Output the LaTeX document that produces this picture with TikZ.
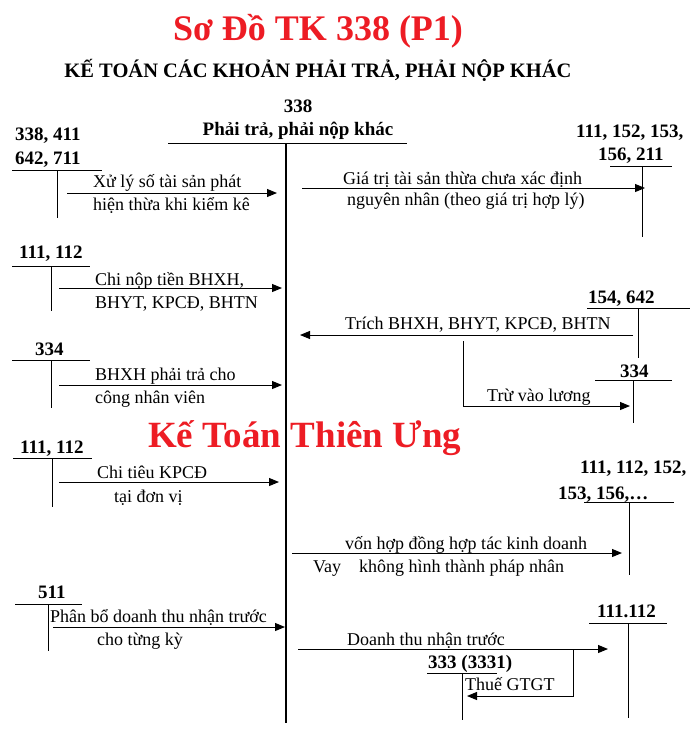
\documentclass[tikz,border=0pt]{standalone}
\usepackage{fontspec}
\setmainfont{Liberation Serif}
\usetikzlibrary{arrows.meta}
\definecolor{doTieuDe}{RGB}{237,28,36}

\begin{document}
\begin{tikzpicture}[x=1pt,y=-1pt,
    so/.style={font=\fontsize{19}{22}\selectfont\bfseries, inner sep=0pt, anchor=base west},
    chu/.style={font=\fontsize{18}{21}\selectfont, inner sep=0pt, anchor=base west},
    tk/.style={line width=1pt},
    mui/.style={line width=1pt, -{Triangle[length=10pt,width=8pt]}}]

\useasboundingbox (0,0) rectangle (700,731);

% Tieu de
\node[font=\fontsize{36}{40}\selectfont\bfseries, text=doTieuDe, inner sep=0pt, anchor=base] (tieude) at (318,40) {Sơ Đồ TK 338 (P1)};
\node[font=\fontsize{20.5}{24}\selectfont\bfseries, inner sep=0pt, anchor=base] (phude) at (318,77) {KẾ TOÁN CÁC KHOẢN PHẢI TRẢ, PHẢI NỘP KHÁC};

% Tai khoan 338 (truc chinh)
\node[so, anchor=base] (tk338) at (298,112) {338};
\node[so, anchor=base] (ten338) at (298,135) {Phải trả, phải nộp khác};
\draw[tk] (168,143) -- (407,143);
\draw[line width=2.8pt] (286,143) -- (286,723);

% 338, 411, 642, 711 -> 338
\node[so] (tk411) at (15,140) {338, 411};
\node[so] (tk711) at (15,164) {642, 711};
\draw[tk] (12,170) -- (102,170);
\draw[tk] (57,170) -- (57,218);
\coordinate (xuly1) at (67,193);
\coordinate (xuly2) at (277,193);
\draw[mui] (xuly1) -- (xuly2);
\node[chu] (xuly) at (93,187) {Xử lý số tài sản phát};
\node[chu] (xulyb) at (93,210) {hiện thừa khi kiểm kê};

% 338 -> 111, 152, 153, 156, 211
\node[so] (tk153) at (576,137) {111, 152, 153,};
\node[so] (tk211) at (598,160) {156, 211};
\draw[tk] (610,166) -- (672,166);
\draw[tk] (642,166) -- (642,237);
\coordinate (giatri1) at (302,188);
\coordinate (giatri2) at (645,188);
\draw[mui] (giatri1) -- (giatri2);
\node[chu] (giatri) at (343,184) {Giá trị tài sản thừa chưa xác định};
\node[chu] (giatrib) at (347,205) {nguyên nhân (theo giá trị hợp lý)};

% 111, 112 -> 338 (chi nop)
\node[so] (tk112a) at (19,258) {111, 112};
\draw[tk] (12,266) -- (90,266);
\draw[tk] (51,266) -- (51,311);
\coordinate (chinop1) at (59,288);
\coordinate (chinop2) at (282,288);
\draw[mui] (chinop1) -- (chinop2);
\node[chu] (chinop) at (95,285) {Chi nộp tiền BHXH,};
\node[chu] (chinopb) at (95,308) {BHYT, KPCĐ, BHTN};

% 334 -> 338
\node[so] (tk334a) at (35,355) {334};
\draw[tk] (12,360) -- (90,360);
\draw[tk] (51,360) -- (51,408);
\coordinate (bhxh1) at (59,385);
\coordinate (bhxh2) at (282,385);
\draw[mui] (bhxh1) -- (bhxh2);
\node[chu] (bhxh) at (95,380) {BHXH phải trả cho};
\node[chu] (bhxhb) at (95,403) {công nhân viên};

% 154, 642 -> 338 ; 334
\node[so] (tk642) at (588,303) {154, 642};
\draw[tk] (587,308) -- (690,308);
\draw[tk] (638,308) -- (638,358);
\coordinate (trich1) at (633,335);
\coordinate (trich2) at (300,335);
\draw[mui] (trich1) -- (trich2);
\node[chu] (trich) at (345,329) {Trích BHXH, BHYT, KPCĐ, BHTN};
\node[so] (tk334b) at (620,377) {334};
\draw[tk] (595,380) -- (672,380);
\draw[tk] (633,380) -- (633,423);
\coordinate (tru1) at (463,341);
\coordinate (tru2) at (630,406);
\draw[mui] (tru1) |- (tru2);
\node[chu] (tru) at (487,401) {Trừ vào lương};

% 111, 112 -> 338 (chi tieu)
\node[so] (tk112b) at (20,453) {111, 112};
\draw[tk] (13,458) -- (92,458);
\draw[tk] (52,458) -- (52,507);
\coordinate (chitieu1) at (59,482);
\coordinate (chitieu2) at (279,482);
\draw[mui] (chitieu1) -- (chitieu2);
\node[chu] (chitieu) at (97,478) {Chi tiêu KPCĐ};
\node[chu] (chitieub) at (114,502) {tại đơn vị};

% 338 -> 111, 112, 152, 153, 156
\node[so] (tk152) at (580,473) {111, 112, 152,};
\node[so] (tk156) at (558,499) {153, 156,…};
\draw[tk] (584,502) -- (674,502);
\draw[tk] (629,502) -- (629,575);
\coordinate (vay1) at (292,553);
\coordinate (vay2) at (622,553);
\draw[mui] (vay1) -- (vay2);
\node[chu] (von) at (345,549) {vốn hợp đồng hợp tác kinh doanh};
\node[chu] (vay) at (313,572) {Vay};
\node[chu] (vayb) at (359,572) {không hình thành pháp nhân};

% 511 -> 338
\node[so] (tk511) at (38,598) {511};
\draw[tk] (15,604) -- (82,604);
\draw[tk] (48,604) -- (48,651);
\coordinate (phanbo1) at (53,627);
\coordinate (phanbo2) at (285,627);
\draw[mui] (phanbo1) -- (phanbo2);
\node[chu] (phanbo) at (50,622) {Phân bổ doanh thu nhận trước};
\node[chu] (phanbob) at (97,645) {cho từng kỳ};

% 338 -> 111.112 ; 333 (3331)
\node[so] (tk111) at (597,617) {111.112};
\draw[tk] (589,623) -- (667,623);
\draw[tk] (628,623) -- (628,718);
\coordinate (dt1) at (298,649);
\coordinate (dt2) at (608,649);
\draw[mui] (dt1) -- (dt2);
\node[chu] (dt) at (347,645) {Doanh thu nhận trước};
\node[so] (tk3331) at (428,668) {333 (3331)};
\draw[tk] (427,673) -- (497,673);
\draw[tk] (462,673) -- (462,720);
\coordinate (thue1) at (573,649);
\coordinate (thue2) at (467,696);
\draw[mui] (thue1) |- (thue2);
\node[chu] (thue) at (465,690) {Thuế GTGT};

% Ten trang
\node[font=\fontsize{37}{42}\selectfont\bfseries, text=doTieuDe, inner sep=0pt, anchor=base west] (tentrang) at (148,447) {Kế Toán Thiên Ưng};
\end{tikzpicture}
\end{document}
